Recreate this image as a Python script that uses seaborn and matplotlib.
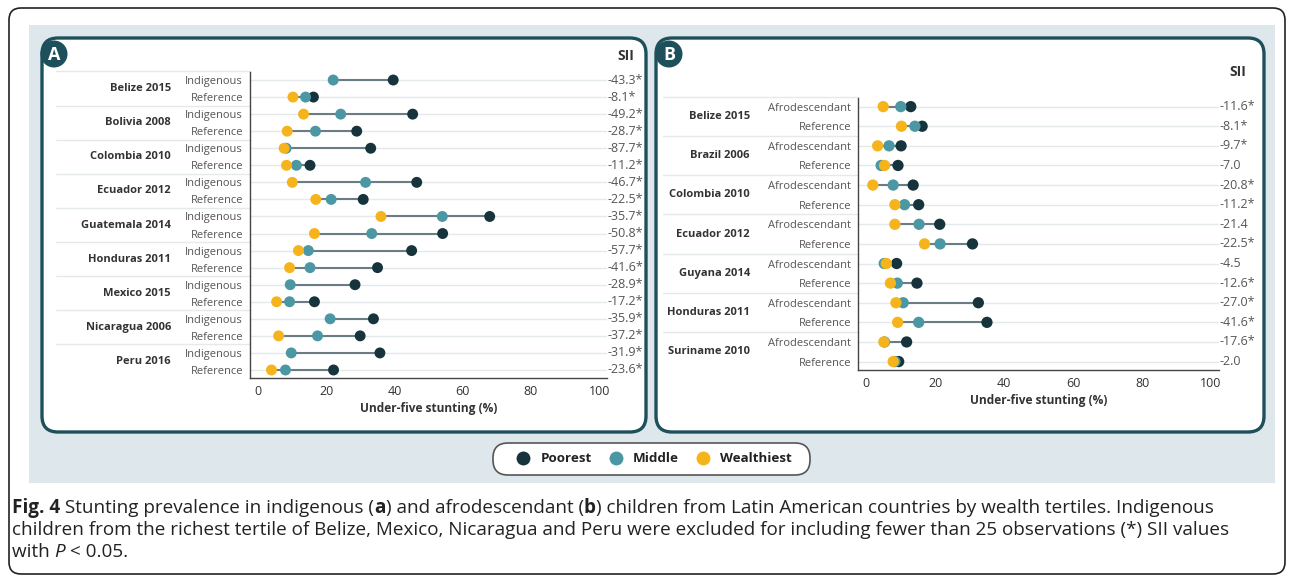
import numpy as np
import pandas as pd
import matplotlib
matplotlib.use("Agg")
import matplotlib.pyplot as plt
import matplotlib.transforms as mtransforms
from matplotlib.patches import FancyBboxPatch, Circle
import seaborn as sns

# ---------------- data ----------------
countries_a = ["Belize 2015", "Bolivia 2008", "Colombia 2010", "Ecuador 2012",
               "Guatemala 2014", "Honduras 2011", "Mexico 2015", "Nicaragua 2006",
               "Peru 2016"]
groups_a = ["Indigenous", "Reference"]
# per row: Indigenous, Reference for each country (NaN = excluded)
poorest_a = [39.6, 16.2, 45.3, 28.9, 33.0, 15.2, 46.5, 30.8, 67.9, 54.1,
             45.0, 35.0, 28.4, 16.5, 33.8, 29.9, 35.7, 22.1]
middle_a = [22.0, 13.9, 24.2, 16.8, 8.2, 11.2, 31.5, 21.4, 54.0, 33.3,
            14.7, 15.2, 9.4, 9.2, 21.1, 17.4, 9.7, 8.0]
wealthiest_a = [np.nan, 10.2, 13.3, 8.5, 7.6, 8.3, 10.0, 16.9, 36.0, 16.5,
                11.8, 9.2, np.nan, 5.4, np.nan, 6.0, np.nan, 3.9]
sii_a = ["-43.3*", "-8.1*", "-49.2*", "-28.7*", "-87.7*", "-11.2*", "-46.7*", "-22.5*",
         "-35.7*", "-50.8*", "-57.7*", "-41.6*", "-28.9*", "-17.2*", "-35.9*", "-37.2*",
         "-31.9*", "-23.6*"]

countries_b = ["Belize 2015", "Brazil 2006", "Colombia 2010", "Ecuador 2012",
               "Guyana 2014", "Honduras 2011", "Suriname 2010"]
groups_b = ["Afrodescendant", "Reference"]
poorest_b = [12.9, 16.2, 10.1, 9.2, 13.6, 15.2, 21.3, 30.8, 8.8, 14.7, 32.5, 35.0, 11.7, 9.4]
middle_b = [10.0, 14.1, 6.6, 4.3, 7.8, 11.1, 15.3, 21.4, 5.2, 9.0, 10.7, 15.2, 5.3, 8.3]
wealthiest_b = [4.9, 10.2, 3.3, 5.3, 1.9, 8.3, 8.3, 16.9, 5.8, 7.0, 8.6, 9.1, 5.1, 7.8]
sii_b = ["-11.6*", "-8.1*", "-9.7*", "-7.0", "-20.8*", "-11.2*", "-21.4", "-22.5*",
         "-4.5", "-12.6*", "-27.0*", "-41.6*", "-17.6*", "-2.0"]

tertiles = ["Poorest", "Middle", "Wealthiest"]
palette = {"Poorest": "#17343d", "Middle": "#4b97a3", "Wealthiest": "#f6b41c"}
xticks = [0, 20, 40, 60, 80, 100]

# ---------------- styling ----------------
sns.set_theme(style="white")
plt.rcParams["font.family"] = ["Open Sans", "DejaVu Sans"]

W, H = 1292, 582
fig = plt.figure(figsize=(W / 100, H / 100), dpi=100)
fig.patch.set_facecolor("white")

# full-figure canvas in pixel units for frames and captions
bg = fig.add_axes([0, 0, 1, 1], zorder=0)
bg.set_xlim(0, W)
bg.set_ylim(H, 0)
bg.axis("off")

TEAL = "#1d505b"
bg.add_patch(FancyBboxPatch((9, 8), 1276, 566, boxstyle="round,pad=0,rounding_size=12",
                            fc="white", ec="#222222", lw=1.2))
bg.add_patch(FancyBboxPatch((29, 25), 1246, 458, boxstyle="square,pad=0",
                            fc="#dde7ec", ec="none"))
for (x0, x1) in [(42, 646), (656, 1264)]:
    bg.add_patch(FancyBboxPatch((x0, 38), x1 - x0, 394,
                                boxstyle="round,pad=0,rounding_size=16",
                                fc="white", ec=TEAL, lw=2.4))
for (cx, letter) in [(54, "A"), (669, "B")]:
    bg.add_patch(Circle((cx, 54), 13.5, fc=TEAL, ec="none"))
    bg.text(cx, 54.5, letter, color="white", fontsize=13, fontweight="bold",
            ha="center", va="center")


def px_rect(left, right, top, bottom):
    return [left / W, 1 - bottom / H, (right - left) / W, (bottom - top) / H]


def long_frame(countries, groups, poorest, middle, wealthiest):
    rows = []
    n = len(countries) * len(groups)
    for i in range(n):
        for t, vals in zip(tertiles, (poorest, middle, wealthiest)):
            rows.append({"row": i, "tertile": t, "value": vals[i]})
    return pd.DataFrame(rows).dropna()


def draw_panel(rect, countries, groups, poorest, middle, wealthiest, sii,
               ylim, label_x, sep_x0, sii_x, dot_size):
    ax = fig.add_axes(rect, zorder=2)
    ax.set_facecolor("none")
    n = len(countries) * len(groups)
    pos = np.arange(n)
    df = long_frame(countries, groups, poorest, middle, wealthiest)

    # row gridlines
    ax.hlines(pos, 0, 1, transform=ax.get_yaxis_transform(),
              color="#e4e9eb", lw=1.0, zorder=0)

    # range segments from lowest to highest tertile
    span = df.groupby("row")["value"].agg(["min", "max"]).reset_index()
    ax.hlines(span["row"], span["min"], span["max"], color="#6b7c84", lw=1.5, zorder=1)

    sns.scatterplot(data=df, x="value", y="row", hue="tertile", hue_order=tertiles,
                    palette=palette, s=dot_size, edgecolor="none", linewidth=0,
                    legend=False, ax=ax, zorder=3)

    ax.set_xlim(-2.4, 102.3)
    ax.set_ylim(*ylim)
    ax.set_xticks(xticks)
    ax.set_xticklabels([str(v) for v in xticks], fontsize=9, color="#333333")
    ax.set_yticks(pos)
    ax.set_yticklabels([groups[i % 2] for i in pos], fontsize=8, color="#555555")
    ax.tick_params(axis="y", length=4, width=0.8, color="#555555", pad=1)
    ax.tick_params(axis="x", length=4, width=0.8, color="#555555", pad=1)
    ax.set_xlabel("Under-five stunting (%)", fontsize=8.6, fontweight="bold",
                  color="#333333", labelpad=3)
    ax.set_ylabel("")
    for side in ("top", "right"):
        ax.spines[side].set_visible(False)
    for side in ("left", "bottom"):
        ax.spines[side].set_color("#444444")
        ax.spines[side].set_linewidth(1.0)

    tr = mtransforms.blended_transform_factory(bg.transData, ax.transData)
    left_px = rect[0] * W
    for k, name in enumerate(countries):
        ax.text(label_x, 2 * k + 0.5, name, transform=tr, ha="right", va="center",
                fontsize=8, fontweight="bold", color="#333333")
        ax.plot([sep_x0, left_px], [2 * k - 0.5, 2 * k - 0.5], transform=tr,
                color="#e4e9eb", lw=1.0, clip_on=False, zorder=0)
    for i, s in enumerate(sii):
        ax.text(sii_x, i, s, transform=tr, ha="left", va="center",
                fontsize=9, color="#555555")
    return ax


ax_a = draw_panel(px_rect(250, 607, 72, 378), countries_a, groups_a,
                  poorest_a, middle_a, wealthiest_a, sii_a,
                  ylim=(17.47, -0.47), label_x=171, sep_x0=56, sii_x=607,
                  dot_size=62)
ax_b = draw_panel(px_rect(858, 1219, 98, 370), countries_b, groups_b,
                  poorest_b, middle_b, wealthiest_b, sii_b,
                  ylim=(13.43, -0.44), label_x=750, sep_x0=663, sii_x=1220,
                  dot_size=66)

bg.text(626, 56, "SII", fontsize=10, fontweight="bold", color="#333333",
        ha="center", va="center")
bg.text(1238, 72, "SII", fontsize=10, fontweight="bold", color="#333333",
        ha="center", va="center")

# legend pill
bg.add_patch(FancyBboxPatch((493, 443), 317, 32, boxstyle="round,pad=0,rounding_size=15",
                            fc="white", ec="#555555", lw=1.2, zorder=1))
handles = [plt.Line2D([], [], marker="o", ls="none", ms=10, mfc=palette[t], mec="none")
           for t in tertiles]
leg = fig.legend(handles, tertiles, loc="center", bbox_to_anchor=(651 / W, 1 - 459 / H),
                 ncol=3, frameon=False, handletextpad=0.3, columnspacing=0.8,
                 prop={"family": ["Open Sans", "DejaVu Sans"], "weight": "bold", "size": 9.6})
for t in leg.get_texts():
    t.set_color("#222222")

# caption with mixed styles
fig.canvas.draw()
renderer = fig.canvas.get_renderer()
CAP = 13.6


def runs(y, parts, x=12):
    for txt, style in parts:
        kw = dict(fontsize=CAP, color="#222222", va="center", ha="left")
        if style == "b":
            kw["fontweight"] = "bold"
        elif style == "i":
            kw["fontstyle"] = "italic"
        t = bg.text(x, y, txt, **kw)
        bb = t.get_window_extent(renderer=renderer)
        x += bb.width


runs(508, [("Fig. 4", "b"), (" Stunting prevalence in indigenous (", "r"), ("a", "b"),
           (") and afrodescendant (", "r"), ("b", "b"),
           (") children from Latin American countries by wealth tertiles. Indigenous", "r")])
runs(530, [("children from the richest tertile of Belize, Mexico, Nicaragua and Peru were "
            "excluded for including fewer than 25 observations (*) SII values", "r")])
runs(552, [("with ", "r"), ("P", "i"), (" < 0.05.", "r")])

fig.savefig("out.png", dpi=100)
